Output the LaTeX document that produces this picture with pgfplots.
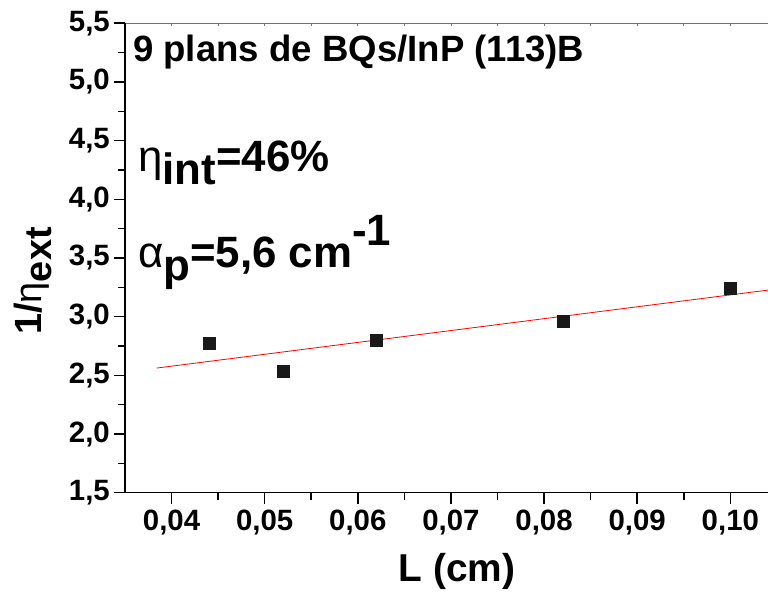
\documentclass[border=0pt]{standalone}
\usepackage{fontspec}
\setmainfont{Liberation Sans}
\usepackage{pgfplots}
\pgfplotsset{compat=1.18}
\begin{document}
\begin{tikzpicture}[x=1bp,y=1bp]
\path[use as bounding box] (-125,-100.3) rectangle (643,492.7);
\clip (-125,-100.3) rectangle (643,492.7);
\begin{axis}[
  at={(0,0)}, anchor=south west,
  scale only axis, width=651.9bp, height=469.4bp,
  xmin=0.035, xmax=0.105, ymin=1.5, ymax=5.5,
  axis x line*=top, axis y line=none,
  axis line style={-, black!55, line width=0.9bp},
  xtick={0.035,0.04,0.045,0.05,0.055,0.06,0.065,0.07,0.075,0.08,0.085,0.09,0.095,0.10,0.105},
  xticklabels={},
  tick align=inside, major tick length=3bp,
  tick style={black!55, line width=0.9bp},
]
\end{axis}
\begin{axis}[
  at={(0,0)}, anchor=south west,
  scale only axis, width=651.9bp, height=469.4bp,
  xmin=0.035, xmax=0.105, ymin=1.5, ymax=5.5,
  axis x line*=bottom, axis y line*=left,
  axis line style={-, black, line width=1.6bp},
  xtick={0.04,0.05,0.06,0.07,0.08,0.09,0.10},
  ytick={1.5,2.0,2.5,3.0,3.5,4.0,4.5,5.0,5.5},
  minor tick num=1,
  tick align=outside,
  major tick length=11bp, minor tick length=7bp,
  tick style={black, line width=1.6bp},
  /pgf/number format/assume math mode=true,
  tick label style={font=\bfseries\fontsize{29.5}{32}\selectfont},
  xticklabel style={inner sep=6bp, /pgf/number format/.cd, use comma, fixed, fixed zerofill, precision=2},
  yticklabel style={inner sep=4bp, /pgf/number format/.cd, use comma, fixed, fixed zerofill, precision=1},
  clip=false,
]
\addplot[red, line width=0.8bp] coordinates {(0.0384,2.562) (0.105,3.236)};
\addplot[only marks, mark=square*, mark size=6bp, black!90] coordinates {
  (0.044,2.773) (0.052,2.537) (0.062,2.798) (0.082,2.962) (0.100,3.241)};
\end{axis}
\node[anchor=base west, inner sep=0, font=\bfseries\fontsize{36.7}{40}\selectfont] at (8,430.7) {9 plans de BQs/InP (113)B};
\node[anchor=base west, inner sep=0] at (13,321) {\fontsize{44}{48}\selectfont η\raisebox{-13bp}{\bfseries int}\bfseries=46\%};
\node[anchor=base west, inner sep=0] at (13,225) {\fontsize{44}{48}\selectfont α\raisebox{-13bp}{\bfseries p}\bfseries=5,6 cm\raisebox{22bp}{-1}};
\node[rotate=90, anchor=base, inner sep=0] at (-83,211.7) {\fontsize{38}{40}\selectfont\bfseries 1/{\mdseries η}\raisebox{-10bp}{ext}};
\node[anchor=base, inner sep=0, font=\bfseries\fontsize{39}{42}\selectfont] at (332,-89.3) {L (cm)};
\end{tikzpicture}
\end{document}
